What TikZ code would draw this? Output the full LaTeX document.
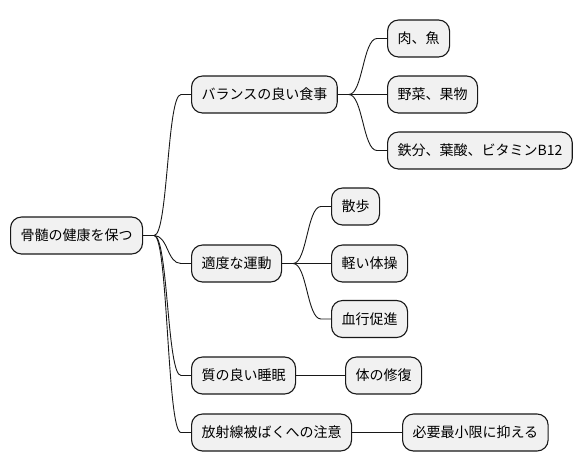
\documentclass[tikz,border=0pt]{standalone}
\usepackage{fontspec}
\setmainfont{Noto Sans CJK JP}
\definecolor{boxfill}{HTML}{F1F1F1}
\definecolor{boxline}{HTML}{181818}
\tikzset{
  mm/.style={draw=boxline, fill=boxfill, line width=1.1pt, rounded corners=11pt,
    anchor=west, minimum height=37pt, inner xsep=10pt, inner ysep=0pt,
    font=\fontsize{14}{16}\selectfont},
  link/.style={draw=boxline, line width=0.9pt}
}
\newcommand\mmlink[2]{\draw[link] (#1.east) -- ++(11,0) .. controls +(14,0) and +(-14,0) .. ([xshift=-10pt]#2.west) -- (#2.west);}
\begin{document}
\begin{tikzpicture}[x=1pt,y=-1pt]
\useasboundingbox (0,0) rectangle (586,471);
\node[mm] (r) at (10,235.5) {骨髄の健康を保つ};
\node[mm] (a) at (191,94.5) {バランスの良い食事};
\node[mm] (a1) at (387,38.5) {肉、魚};
\node[mm] (a2) at (387,94.5) {野菜、果物};
\node[mm] (a3) at (387,150.5) {鉄分、葉酸、ビタミンB12};
\node[mm] (b) at (191,263.5) {適度な運動};
\node[mm] (b1) at (331,206.5) {散歩};
\node[mm] (b2) at (331,263.5) {軽い体操};
\node[mm] (b3) at (331,319) {血行促進};
\node[mm] (c) at (191,375.5) {質の良い睡眠};
\node[mm] (c1) at (345,375.5) {体の修復};
\node[mm] (d) at (191,432.5) {放射線被ばくへの注意};
\node[mm] (d1) at (402,432.5) {必要最小限に抑える};
\mmlink{r}{a}
\mmlink{r}{b}
\mmlink{r}{c}
\mmlink{r}{d}
\mmlink{a}{a1}
\draw[link] (a.east) -- (a2.west);
\mmlink{a}{a3}
\mmlink{b}{b1}
\draw[link] (b.east) -- (b2.west);
\mmlink{b}{b3}
\draw[link] (c.east) -- (c1.west);
\draw[link] (d.east) -- (d1.west);
\end{tikzpicture}
\end{document}
